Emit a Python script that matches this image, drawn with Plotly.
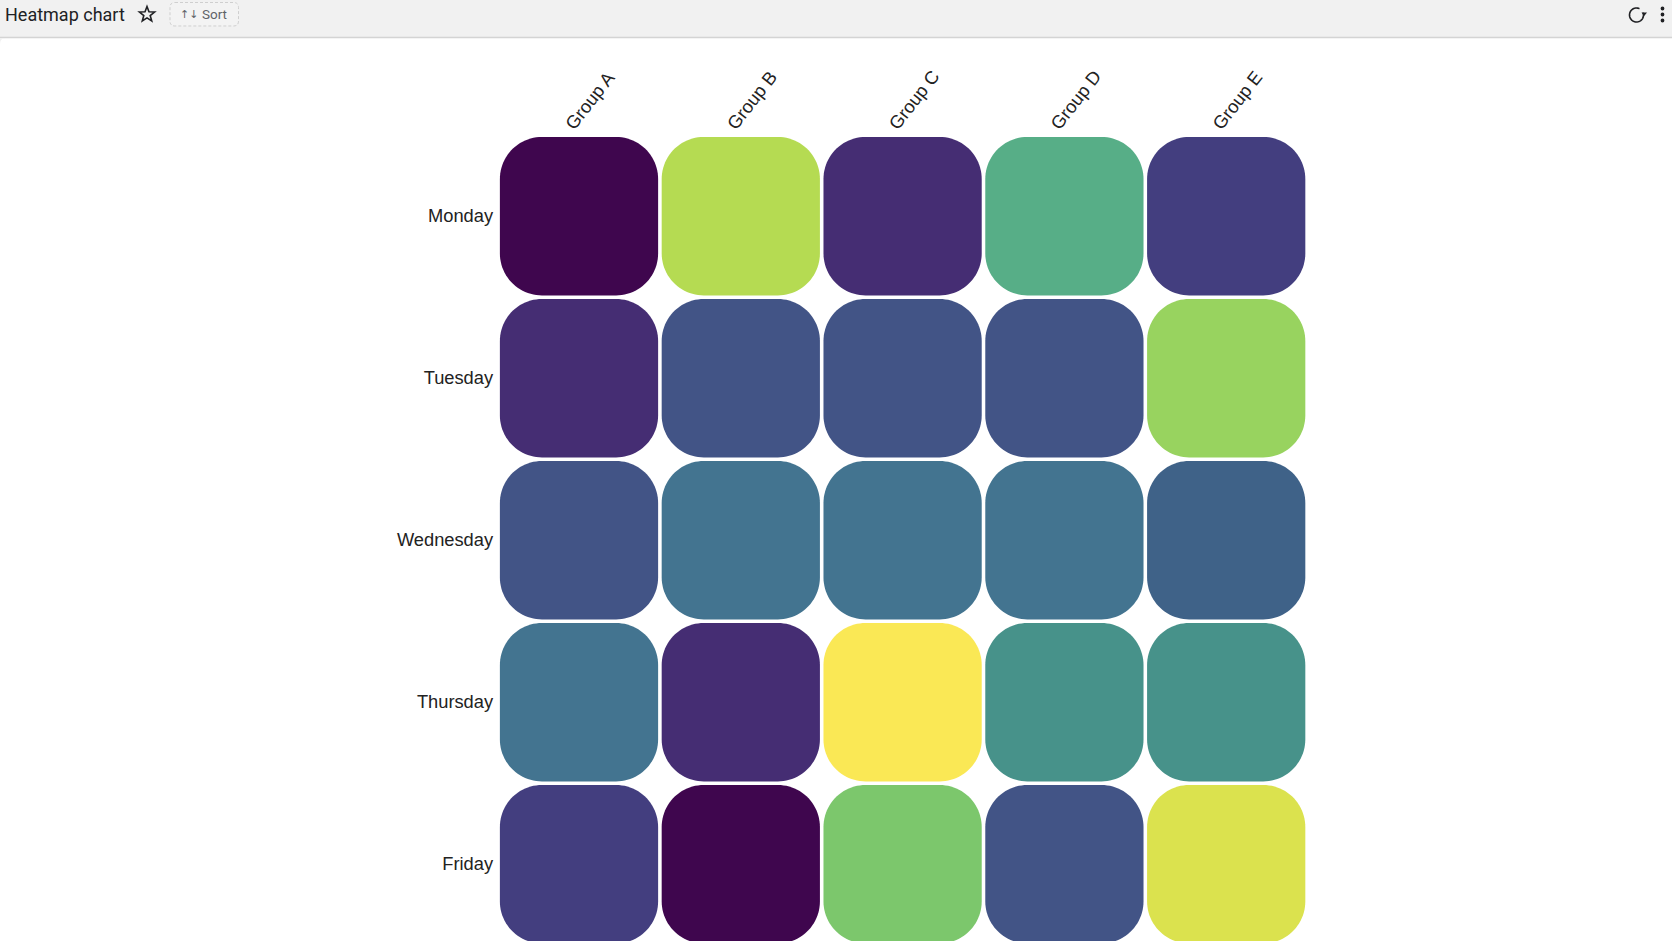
import numpy as np
import plotly.graph_objects as go
from plotly.colors import sample_colorscale

W, H = 1672, 941

days = ["Monday", "Tuesday", "Wednesday", "Thursday", "Friday"]
groups = ["Group A", "Group B", "Group C", "Group D", "Group E"]

# one list per row (0-100)
monday = [0, 88, 12, 62, 17]
tuesday = [12, 25, 25, 25, 84]
wednesday = [25, 37, 37, 37, 31]
thursday = [37, 12, 100, 50, 50]
friday = [17, 0, 78, 25, 95]
rows = [monday, tuesday, wednesday, thursday, friday]

# viridis as it looks in the screenshot, a bit washed out
colorscale = [
    [0.00, "#3f064e"], [0.12, "#452d73"], [0.17, "#433e7f"], [0.25, "#425486"],
    [0.31, "#3f6288"], [0.37, "#437490"], [0.50, "#47928a"], [0.62, "#57ae87"],
    [0.78, "#7cc76c"], [0.84, "#98d35f"], [0.88, "#b5db52"], [0.95, "#dbe24e"],
    [1.00, "#fae855"],
]

# heatmap traces have no rounded corners, so each cell is a filled outline
HALF = 0.489
RADIUS = 0.26

def rounded_cell(cx, cy):
    xs, ys = [], []
    corners = [(1, 1, 0), (-1, 1, 90), (-1, -1, 180), (1, -1, 270)]
    for sx, sy, start in corners:
        a = np.radians(np.linspace(start, start + 90, 24))
        xs.extend(cx + sx * (HALF - RADIUS) + RADIUS * np.cos(a))
        ys.extend(cy + sy * (HALF - RADIUS) + RADIUS * np.sin(a))
    return xs + xs[:1], ys + ys[:1]

fig = go.Figure()
for j, day in enumerate(days):
    for i, group in enumerate(groups):
        value = rows[j][i]
        xs, ys = rounded_cell(i, j)
        color = sample_colorscale(colorscale, value / 100)[0]
        fig.add_trace(go.Scatter(
            x=xs, y=ys, mode="lines", fill="toself", fillcolor=color,
            line=dict(width=0, color=color, simplify=False), hoveron="fills",
            name=group + " / " + day + ": " + str(value), showlegend=False))

# toolbar of the page, in pixels of the window
def px(x):
    return x / W

def py(y):
    return 1 - y / H

def sort_box(x0, y0, x1, y1, r):
    return ("M %f,%f L %f,%f Q %f,%f %f,%f L %f,%f Q %f,%f %f,%f L %f,%f Q %f,%f %f,%f L %f,%f Q %f,%f %f,%f Z" % (
        px(x0 + r), py(y0), px(x1 - r), py(y0), px(x1), py(y0), px(x1), py(y0 + r),
        px(x1), py(y1 - r), px(x1), py(y1), px(x1 - r), py(y1),
        px(x0 + r), py(y1), px(x0), py(y1), px(x0), py(y1 - r),
        px(x0), py(y0 + r), px(x0), py(y0), px(x0 + r), py(y0)))

def outline(points, close=True):
    path = "M " + " L ".join("%f,%f" % (px(x), py(y)) for x, y in points)
    return path + (" Z" if close else "")

def star_path(cx, cy, r):
    pts = []
    for k in range(10):
        a = np.radians(-90 + 36 * k)
        rr = r if k % 2 == 0 else r * 0.42
        pts.append((cx + rr * np.cos(a), cy + rr * np.sin(a)))
    return outline(pts)

def reload_path(cx, cy, r):
    a = np.radians(np.linspace(-20, 295, 40))
    return outline([(cx + r * np.cos(t), cy + r * np.sin(t)) for t in a], close=False)

icon_line = dict(color="#202124", width=1.6)

shapes = [
    dict(type="rect", xref="paper", yref="paper", x0=0, x1=1, y0=py(37), y1=1,
         fillcolor="#f1f1f1", line_width=0, layer="below"),
    dict(type="line", xref="paper", yref="paper", x0=0, x1=1, y0=py(37.5), y1=py(37.5),
         line=dict(color="#d4d4d4", width=1.5), layer="below"),
    dict(type="path", xref="paper", yref="paper",
         path="M 0,%f L %f,%f Q 0,%f 0,%f Z" % (py(38), px(6), py(38), py(38), py(44)),
         fillcolor="#f1f1f1", line_width=0, layer="below"),
    dict(type="path", xref="paper", yref="paper", path=sort_box(170, 2.5, 238.5, 26, 5),
         line=dict(color="#cfcfcf", width=1, dash="3px,2px"), fillcolor="#f3f3f3", layer="below"),
    dict(type="path", xref="paper", yref="paper", path=star_path(147, 14.5, 8), line=icon_line),
    dict(type="path", xref="paper", yref="paper", path=reload_path(1636.5, 15, 7), line=icon_line),
    dict(type="path", xref="paper", yref="paper",
         path=outline([(1641.5, 12.5), (1647, 12.5), (1644.2, 16)]),
         fillcolor="#202124", line_width=0),
]
for dot_y in (8.5, 14.5, 20.5):
    shapes.append(dict(type="circle", xref="paper", yref="paper",
                       x0=px(1660.6), x1=px(1664.4), y0=py(dot_y + 1.9), y1=py(dot_y - 1.9),
                       fillcolor="#202124", line_width=0))

def toolbar_text(x, y, text, size, color="#202124", font="Roboto"):
    return dict(xref="paper", yref="paper", x=px(x), y=py(y), text=text, showarrow=False,
                xanchor="center", yanchor="middle", font=dict(size=size, color=color, family=font))

annotations = [
    dict(toolbar_text(3, 14.5, "Heatmap chart", 18), xanchor="left"),
    toolbar_text(188.5, 14, "↑↓", 11, "#5f6368", "DejaVu Sans"),
    toolbar_text(215, 14.5, "Sort", 13.5, "#5f6368"),
]

label_font = dict(family="Liberation Sans", size=18.3, color="#222222")

fig.update_layout(
    width=W, height=H,
    margin=dict(l=0, r=0, t=0, b=0),
    plot_bgcolor="white", paper_bgcolor="white",
    showlegend=False,
    shapes=shapes, annotations=annotations,
    xaxis=dict(domain=[px(498.1), px(1307.1)], range=[-0.5, 4.5], side="top",
               tickmode="array", tickvals=list(range(5)), ticktext=groups,
               tickangle=-52, tickfont=label_font, ticklabelshift=-12, ticklabelstandoff=-4,
               showgrid=False, zeroline=False, showline=False, ticks="", automargin=False),
    yaxis=dict(domain=[0, py(135.2)], range=[4.474, -0.5],
               tickmode="array", tickvals=list(range(5)), ticktext=days,
               tickfont=label_font, ticklabelstandoff=4, ticklabelshift=1,
               showgrid=False, zeroline=False, showline=False, ticks="", automargin=False),
)

fig.write_html("out.html", config=dict(displayModeBar=False),
               post_script="document.body.style.margin = '0';")
